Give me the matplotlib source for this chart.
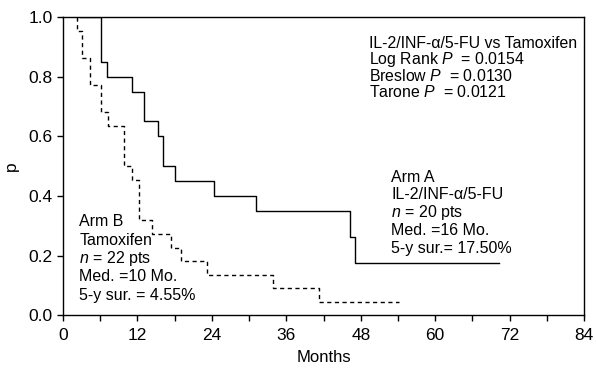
import numpy as np
import matplotlib
matplotlib.use("Agg")
import matplotlib.pyplot as plt
from matplotlib.transforms import offset_copy

plt.rcParams['font.family'] = ['Liberation Sans', 'DejaVu Sans']
plt.rcParams['mathtext.fontset'] = 'custom'
plt.rcParams['mathtext.it'] = 'Liberation Sans:italic'
plt.rcParams['mathtext.rm'] = 'Liberation Sans'

# Arm A: IL-2/INF-a/5-FU (solid)
arm_a_months = [2.7, 6.2, 7.1, 11.2, 13.1, 15.3, 16.2, 18.1, 24.3, 31.1, 46.2, 47.0, 70.3]
arm_a_surv = [1.0, 0.85, 0.80, 0.75, 0.65, 0.60, 0.50, 0.45, 0.40, 0.35, 0.2625, 0.175, 0.175]

# Arm B: Tamoxifen (dashed)
arm_b_months = [2.2, 2.2, 3.0, 4.35, 6.1, 7.3, 9.9, 11.2, 12.3, 14.3, 17.4, 19.0, 23.2, 33.8, 41.3, 54.2]
arm_b_surv = [1.0, 0.955, 0.864, 0.773, 0.682, 0.636, 0.50, 0.455, 0.318, 0.273, 0.227, 0.182,
              0.136, 0.091, 0.045, 0.045]

x_ticks = [0, 12, 24, 36, 48, 60, 72, 84]
y_ticks = [0.0, 0.2, 0.4, 0.6, 0.8, 1.0]

stats_lines = ["IL-2/INF-\u03b1/5-FU vs Tamoxifen",
               "Log Rank $\\it{P}$  = 0.0154",
               "Breslow $\\it{P}$  = 0.0130",
               "Tarone $\\it{P}$  = 0.0121"]
arm_a_lines = ["Arm A", "IL-2/INF-\u03b1/5-FU", "$\\it{n}$ = 20 pts",
               "Med. =16 Mo.", "5-y sur.= 17.50%"]
arm_b_lines = ["Arm B", "Tamoxifen", "$\\it{n}$ = 22 pts",
               "Med. =10 Mo.", "5-y sur. = 4.55%"]


def text_block(ax, x, y, lines, step_pt, size=11.5):
    # one text per line so the spacing is even (mathtext lines shift otherwise)
    for i, line in enumerate(lines):
        tr = offset_copy(ax.transData, fig=ax.figure, x=0, y=-i * step_pt, units='points')
        ax.text(x, y, line, transform=tr, fontsize=size, ha='left', va='baseline')


fig = plt.figure(figsize=(5.96, 3.73), dpi=100)
ax = fig.add_axes([0.1057, 0.155, 0.8743, 0.799])

ax.plot(arm_a_months, arm_a_surv, drawstyle='steps-post', color='black', lw=1.0)
ax.plot(arm_b_months, arm_b_surv, drawstyle='steps-post', color='black', lw=1.0,
        linestyle=(0, (3, 2.5)))

ax.set_xlim(0, 84)
ax.set_ylim(0, 1.0)
ax.set_xticks(x_ticks)
ax.set_xticks(np.arange(6, 84, 12), minor=True)
ax.set_yticks(y_ticks)
ax.set_yticklabels([f"{v:.1f}" for v in y_ticks])
ax.tick_params(axis='both', which='both', direction='out', length=4, width=1,
               labelsize=12.5, colors='black')
ax.tick_params(axis='x', pad=5)
for sp in ax.spines.values():
    sp.set_linewidth(1.0)

ax.set_xlabel("Months", fontsize=12, labelpad=5)
ax.set_ylabel("p", fontsize=12.5, labelpad=7)

text_block(ax, 49.35, 0.897, stats_lines, 11.8, size=11.4)
text_block(ax, 52.9, 0.448, arm_a_lines, 12.8)
text_block(ax, 2.6, 0.299, arm_b_lines, 13.3)

fig.savefig("out.png", dpi=100)
